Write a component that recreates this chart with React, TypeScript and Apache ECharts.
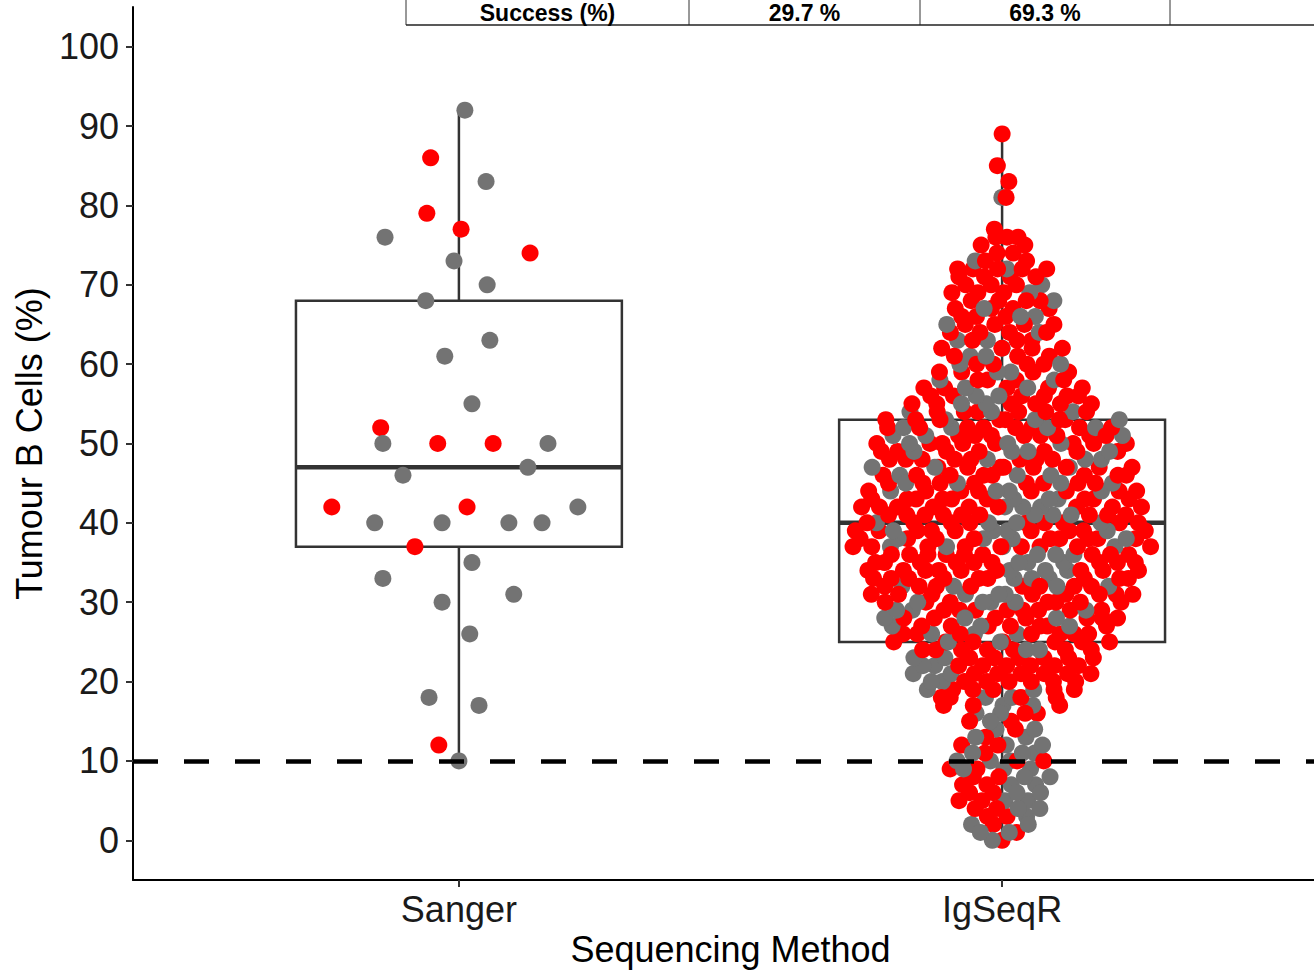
import React, { useEffect, useRef } from 'react';
import * as echarts from 'echarts';

// ---------- data ----------
const categories = ['Sanger', 'IgSeqR'];
const yTicks = [0, 10, 20, 30, 40, 50, 60, 70, 80, 90, 100];
const thresholdValue = 10;

// box statistics
const boxMin = [10, 0];
const boxQ1 = [37, 25];
const boxMedian = [47, 40];
const boxQ3 = [68, 53];
const boxMax = [92, 89];

// Sanger samples (value, success flag, horizontal jitter in category units)
const sangerValues = [92, 86, 83, 79, 77, 76, 74, 73, 70, 68, 63, 61, 55, 52, 50, 50, 50, 50, 47, 46, 42, 42, 42, 40, 40, 40, 40, 37, 35, 33, 31, 30, 26, 18, 17, 12, 10];
const sangerSuccess = [0, 1, 0, 1, 1, 0, 1, 0, 0, 0, 0, 0, 0, 1, 0, 1, 1, 0, 0, 0, 1, 1, 0, 0, 0, 0, 0, 1, 0, 0, 0, 0, 0, 0, 0, 1, 0];
const sangerJitter = [0.011, -0.052, 0.05, -0.059, 0.004, -0.136, 0.131, -0.009, 0.052, -0.061, 0.057, -0.026, 0.024, -0.144, -0.14, -0.039, 0.063, 0.164, 0.127, -0.103, -0.234, 0.015, 0.219, -0.155, -0.031, 0.092, 0.153, -0.081, 0.024, -0.14, 0.101, -0.031, 0.02, -0.055, 0.037, -0.037, 0];

// IgSeqR samples: number of samples at each value 0..89 (index = value)
const igRedCounts = [
  1, 1, 1, 2, 2, 2, 2, 2, 2, 2,
  2, 1, 2, 1, 1, 2, 2, 3, 4, 5,
  6, 6, 6, 6, 7, 7, 7, 7, 7, 8,
  7, 8, 8, 9, 9, 9, 9, 9, 9, 9,
  9, 9, 9, 9, 8, 8, 8, 8, 8, 7,
  8, 8, 8, 7, 6, 6, 6, 5, 4, 4,
  4, 3, 4, 3, 4, 4, 3, 4, 4, 3,
  3, 4, 5, 2, 2, 2, 3, 1, 0, 0,
  0, 1, 0, 1, 0, 1, 0, 0, 0, 1,
];
const igGrayCounts = [
  1, 2, 2, 1, 2, 2, 2, 2, 2, 3,
  3, 3, 2, 2, 2, 1, 2, 2, 2, 2,
  2, 2, 2, 2, 2, 2, 3, 3, 3, 3,
  4, 3, 4, 3, 3, 3, 3, 4, 4, 4,
  4, 3, 3, 3, 4, 4, 3, 3, 3, 4,
  3, 3, 4, 3, 3, 2, 2, 2, 2, 2,
  2, 2, 1, 2, 1, 1, 2, 1, 1, 1,
  1, 0, 1, 1, 0, 0, 0, 0, 0, 0,
  0, 1, 0, 0, 0, 0, 0, 0, 0, 0,
];

const tableCells = ['Success (%)', '29.7 %', '69.3 %', ''];

// ---------- styling ----------
const FONT = "'Liberation Sans', Arial, Helvetica, sans-serif";
const RED = '#ff0000';
const GRAY = '#737373';
const BOX = '#333333';

function vanDerCorput(n: number): number {
  let q = 0;
  let bk = 0.5;
  while (n > 0) {
    q += (n & 1) * bk;
    n >>= 1;
    bk /= 2;
  }
  return q;
}

function buildIgPoints() {
  const n = igRedCounts.length;
  const counts = igRedCounts.map((r, i) => r + igGrayCounts[i]);
  // kernel-smoothed density of the values -> violin width
  const h = 1.3;
  const dens = counts.map((_, v) => {
    let s = 0;
    for (let u = 0; u < n; u++) s += counts[u] * Math.exp(-((v - u) * (v - u)) / (2 * h * h));
    return s;
  });
  const dMax = Math.max(...dens);
  const maxHalf = 0.28;
  const pts: { v: number; success: boolean }[] = [];
  for (let v = 0; v < n; v++) {
    const c = counts[v];
    const g = igGrayCounts[v];
    for (let k = 0; k < c; k++) {
      const isGray = Math.floor(((k + 1) * g) / c) > Math.floor((k * g) / c);
      pts.push({ v, success: !isGray });
    }
  }
  const placed = pts.map((p, i) => {
    const hw = (maxHalf * dens[p.v]) / dMax;
    const off = (vanDerCorput(i + 1) - 0.5) * 2 * hw;
    return { value: [1 + off, p.v], itemStyle: { color: p.success ? RED : GRAY, opacity: 1 } };
  });
  // mixed drawing order
  const N = placed.length;
  const ordered = [];
  for (let i = 0; i < N; i++) ordered.push(placed[(i * 263) % N]);
  return ordered;
}

export default function App() {
  const ref = useRef<HTMLDivElement>(null);

  useEffect(() => {
    document.body.style.margin = '0';
    const chart = echarts.init(ref.current!, null, { renderer: 'svg' });

    const boxData = categories.map((_, i) => [i, boxMin[i], boxQ1[i], boxMedian[i], boxQ3[i], boxMax[i]]);
    const sangerData = sangerValues.map((v, i) => ({
      value: [0 + sangerJitter[i], v],
      itemStyle: { color: sangerSuccess[i] ? RED : GRAY, opacity: 1 },
    }));
    const igData = buildIgPoints();

    const tableX = [406, 689, 920, 1170];
    const tableRight = 1420;
    const graphics: any[] = [];
    tableX.forEach((x) => {
      graphics.push({ type: 'line', shape: { x1: x, y1: -10, x2: x, y2: 25 }, style: { stroke: '#333', lineWidth: 1 }, silent: true });
    });
    graphics.push({ type: 'line', shape: { x1: 406, y1: 25, x2: 1314, y2: 25 }, style: { stroke: '#222', lineWidth: 1.5 }, silent: true });
    tableCells.forEach((t, i) => {
      const x0 = tableX[i];
      const x1 = i + 1 < tableX.length ? tableX[i + 1] : tableRight;
      if (!t) return;
      graphics.push({
        type: 'text',
        x: (x0 + x1) / 2,
        y: 13,
        silent: true,
        style: { text: t, fontSize: 23, fontWeight: 'bold', fontFamily: FONT, fill: '#000', align: 'center', verticalAlign: 'middle' },
      });
    });

    const option: any = {
      animation: false,
      backgroundColor: '#ffffff',
      grid: { left: 133, top: 7, bottom: 94, width: 1195, containLabel: false, outerBoundsMode: 'none' },
      xAxis: {
        type: 'value',
        min: -0.6,
        max: 1.6,
        splitLine: { show: false },
        axisLine: { show: true, onZero: false, lineStyle: { color: '#000', width: 2 } },
        axisTick: { show: true, customValues: [0, 1], length: 7, lineStyle: { color: '#333', width: 2 } },
        axisLabel: {
          customValues: [0, 1],
          formatter: (v: number) => categories[Math.round(v)] ?? '',
          fontSize: 36,
          color: '#1a1a1a',
          fontFamily: FONT,
          margin: 11,
        },
        name: 'Sequencing Method',
        nameLocation: 'middle',
        nameGap: 49,
        nameTextStyle: { fontSize: 36, color: '#000', fontFamily: FONT },
      },
      yAxis: {
        type: 'value',
        min: -5,
        max: 105,
        splitLine: { show: false },
        axisLine: { show: true, onZero: false, lineStyle: { color: '#000', width: 2 } },
        axisTick: { show: true, customValues: yTicks, length: 7, lineStyle: { color: '#333', width: 2 } },
        axisLabel: {
          customValues: yTicks,
          fontSize: 36,
          color: '#1a1a1a',
          fontFamily: FONT,
          margin: 14,
        },
        name: 'Tumour B Cells (%)',
        nameLocation: 'middle',
        nameRotate: 90,
        nameGap: 86,
        nameTextStyle: { fontSize: 36, color: '#000', fontFamily: FONT },
      },
      graphic: graphics,
      series: [
        {
          type: 'custom',
          name: 'box',
          z: 1,
          data: boxData,
          encode: { x: 0, y: [1, 2, 3, 4, 5] },
          renderItem: (_params: any, api: any) => {
            const x = api.value(0);
            const halfW = 0.3;
            const pMin = api.coord([x, api.value(1)]);
            const pQ1 = api.coord([x, api.value(2)]);
            const pMed = api.coord([x, api.value(3)]);
            const pQ3 = api.coord([x, api.value(4)]);
            const pMax = api.coord([x, api.value(5)]);
            const left = api.coord([x - halfW, 0])[0];
            const right = api.coord([x + halfW, 0])[0];
            return {
              type: 'group',
              children: [
                { type: 'line', shape: { x1: pMin[0], y1: pMin[1], x2: pQ1[0], y2: pQ1[1] }, style: { stroke: BOX, lineWidth: 2.5 } },
                { type: 'line', shape: { x1: pQ3[0], y1: pQ3[1], x2: pMax[0], y2: pMax[1] }, style: { stroke: BOX, lineWidth: 2.5 } },
                { type: 'rect', shape: { x: left, y: pQ3[1], width: right - left, height: pQ1[1] - pQ3[1] }, style: { fill: '#fff', stroke: BOX, lineWidth: 2.5 } },
                { type: 'line', shape: { x1: left, y1: pMed[1], x2: right, y2: pMed[1] }, style: { stroke: BOX, lineWidth: 4.5 } },
              ],
            };
          },
        },
        {
          type: 'scatter',
          name: 'Sanger',
          z: 3,
          symbolSize: 17,
          itemStyle: { opacity: 1 },
          data: sangerData,
          markLine: {
            silent: true,
            symbol: 'none',
            label: { show: false },
            lineStyle: { color: '#000', width: 4.5, type: [25, 26], opacity: 1 },
            data: [{ yAxis: thresholdValue }],
          },
        },
        {
          type: 'scatter',
          name: 'IgSeqR',
          z: 3,
          symbolSize: 17,
          itemStyle: { opacity: 1 },
          data: igData,
        },
      ],
    };
    chart.setOption(option);
    return () => chart.dispose();
  }, []);

  return <div ref={ref} style={{ position: 'absolute', left: 0, top: 0, width: 1314, height: 974, overflow: 'hidden' }} />;
}
